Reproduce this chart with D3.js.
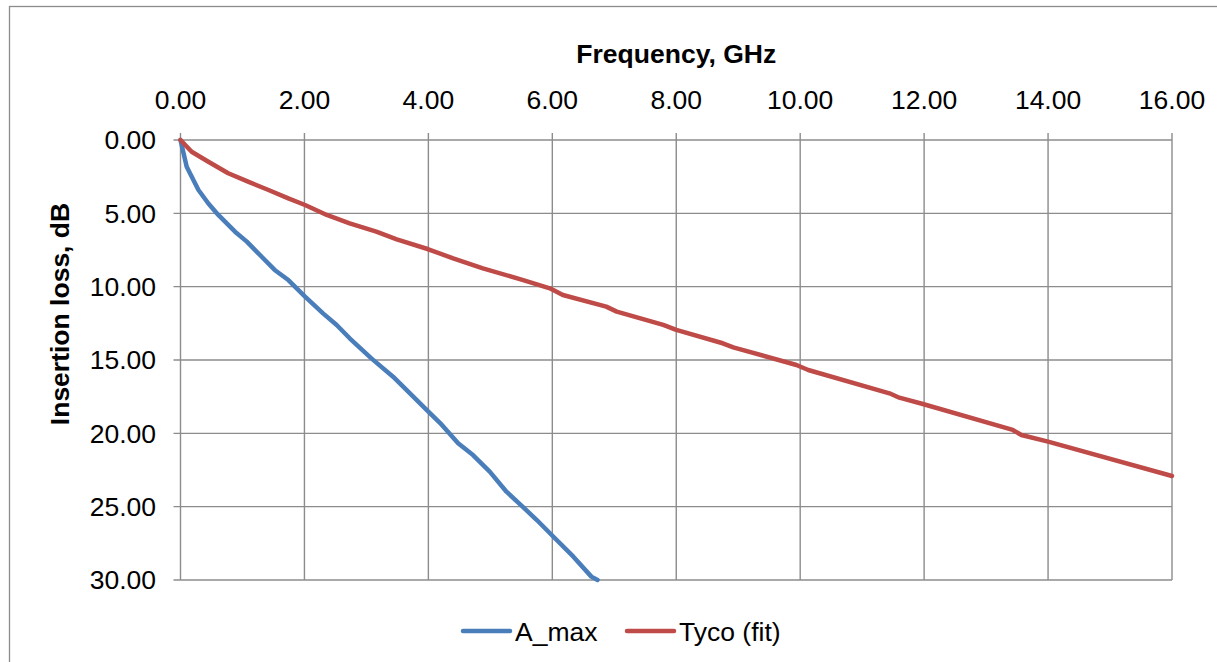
<!DOCTYPE html>
<html>
<head>
<meta charset="utf-8">
<script src="https://cdn.jsdelivr.net/npm/d3@7"></script>
<style>
  body { margin: 0; background: #fff; }
  svg text { font-family: "Liberation Sans", Arial, sans-serif; fill: #000; }
</style>
</head>
<body>
<div id="chart"></div>
<script>
// values
var freqTicks = [0, 2, 4, 6, 8, 10, 12, 14, 16];
var lossTicks = [0, 5, 10, 15, 20, 25, 30];

var aMaxFreq = [0, 0.10, 0.29, 0.45, 0.61, 0.88, 1.07, 1.31, 1.52, 1.74, 2.01, 2.30, 2.52, 2.73, 3.08,
                3.43, 3.65, 4.00, 4.19, 4.48, 4.72, 4.99, 5.26, 5.58, 5.75, 5.99, 6.34, 6.63, 6.73];
var aMaxLoss = [0, 1.82, 3.41, 4.33, 5.11, 6.25, 6.93, 7.96, 8.86, 9.55, 10.68, 11.82, 12.61, 13.52, 14.89,
                16.14, 17.05, 18.52, 19.30, 20.68, 21.48, 22.61, 23.98, 25.23, 25.91, 26.93, 28.41, 29.77, 30.0];

var tycoFreq = [0, 0.18, 0.45, 0.77, 1.09, 1.42, 1.74, 2.01, 2.36, 2.73, 3.16, 3.49, 4.00, 4.40, 4.88,
                5.53, 5.96, 6.17, 6.87, 7.04, 7.79, 8.00, 8.75, 8.92, 9.94, 10.13, 11.44, 11.60, 11.98,
                13.43, 13.57, 14.00, 16.00];
var tycoLoss = [0, 0.80, 1.48, 2.27, 2.84, 3.41, 3.98, 4.43, 5.11, 5.68, 6.25, 6.77, 7.45, 8.07, 8.75,
                9.55, 10.11, 10.57, 11.36, 11.70, 12.61, 12.95, 13.86, 14.14, 15.34, 15.68, 17.27, 17.57, 18.00,
                19.77, 20.11, 20.57, 22.91];

var seriesNames = ["A_max", "Tyco (fit)"];
var seriesColors = ["#4a7ebb", "#be4b48"];

var width = 1217, height = 662;
var margin = {top: 140, left: 180.5, right: 45, bottom: 82};
var fontSize = "26.5px";

var svg = d3.select("#chart").append("svg")
    .attr("width", width)
    .attr("height", height);

// outer chart border
svg.append("rect")
    .attr("x", 9.5).attr("y", 6.5)
    .attr("width", width + 20).attr("height", height + 20)
    .attr("fill", "none")
    .attr("stroke", "#8c8c8c")
    .attr("stroke-width", 1.3);

var x = d3.scaleLinear().domain([0, 16]).range([margin.left, width - margin.right]);
var y = d3.scaleLinear().domain([0, 30]).range([margin.top, height - margin.bottom]);

// grid
var grid = svg.append("g").attr("stroke", "#8c8c8c").attr("stroke-width", 1.4);
grid.selectAll(".vg").data(freqTicks).enter().append("line")
    .attr("x1", function (d) { return x(d); })
    .attr("x2", function (d) { return x(d); })
    .attr("y1", y(0) - 7)
    .attr("y2", y(30));
grid.selectAll(".hg").data(lossTicks).enter().append("line")
    .attr("x1", x(0) - 7)
    .attr("x2", x(16))
    .attr("y1", function (d) { return y(d); })
    .attr("y2", function (d) { return y(d); });

// tick labels
var fmt = d3.format(".2f");
svg.append("g").selectAll("text").data(freqTicks).enter().append("text")
    .attr("x", function (d) { return x(d); })
    .attr("y", 109)
    .attr("text-anchor", "middle")
    .style("font-size", fontSize)
    .text(fmt);

svg.append("g").selectAll("text").data(lossTicks).enter().append("text")
    .attr("x", 156)
    .attr("y", function (d) { return y(d); })
    .attr("dy", "0.35em")
    .attr("text-anchor", "end")
    .style("font-size", fontSize)
    .text(fmt);

// axis titles
svg.append("text")
    .attr("x", (x(0) + x(16)) / 2)
    .attr("y", 63)
    .attr("text-anchor", "middle")
    .style("font-size", fontSize)
    .style("font-weight", "bold")
    .text("Frequency, GHz");

svg.append("text")
    .attr("transform", "translate(69," + 314 + ") rotate(-90)")
    .attr("text-anchor", "middle")
    .style("font-size", fontSize)
    .style("font-weight", "bold")
    .text("Insertion loss, dB");

// lines
var line = d3.line()
    .x(function (d) { return x(d[0]); })
    .y(function (d) { return y(d[1]); });

var series = [d3.zip(aMaxFreq, aMaxLoss), d3.zip(tycoFreq, tycoLoss)];

svg.append("g").selectAll("path").data(series).enter().append("path")
    .attr("d", line)
    .attr("fill", "none")
    .attr("stroke", function (d, i) { return seriesColors[i]; })
    .attr("stroke-width", 4.5)
    .attr("stroke-linejoin", "round")
    .attr("stroke-linecap", "round");

// legend
var legendX = [463, 627];
var legend = svg.append("g");
seriesNames.forEach(function (name, i) {
    legend.append("line")
        .attr("x1", legendX[i]).attr("x2", legendX[i] + 47)
        .attr("y1", 631).attr("y2", 631)
        .attr("stroke", seriesColors[i])
        .attr("stroke-width", 4.5)
        .attr("stroke-linecap", "round");
    legend.append("text")
        .attr("x", legendX[i] + 52)
        .attr("y", 641)
        .style("font-size", fontSize)
        .text(name);
});
</script>
</body>
</html>
